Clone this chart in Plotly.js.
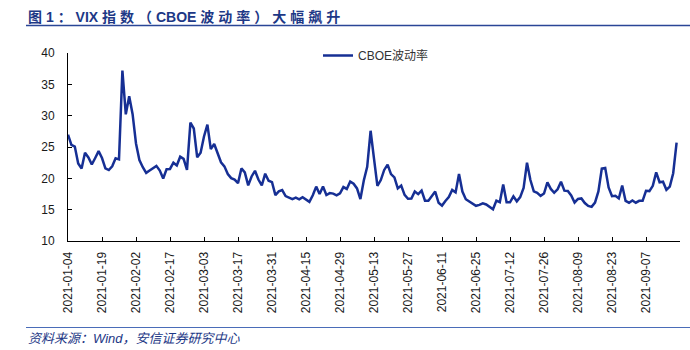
<!DOCTYPE html>
<html>
<head>
<meta charset="utf-8">
<script src="https://cdn.plot.ly/plotly-3.0.1.min.js"></script>
<style>html,body{margin:0;padding:0;background:#fff;}#chart{width:690px;height:350px;}</style>
</head>
<body>
<div id="chart"></div>
<script>
const dates = [
"2021-01-04","2021-01-05","2021-01-06","2021-01-07","2021-01-08","2021-01-11","2021-01-12","2021-01-13","2021-01-14","2021-01-15",
"2021-01-19","2021-01-20","2021-01-21","2021-01-22","2021-01-25","2021-01-26","2021-01-27","2021-01-28","2021-01-29",
"2021-02-01","2021-02-02","2021-02-03","2021-02-04","2021-02-05","2021-02-08","2021-02-09","2021-02-10","2021-02-11","2021-02-12",
"2021-02-16","2021-02-17","2021-02-18","2021-02-19","2021-02-22","2021-02-23","2021-02-24","2021-02-25","2021-02-26",
"2021-03-01","2021-03-02","2021-03-03","2021-03-04","2021-03-05","2021-03-08","2021-03-09","2021-03-10","2021-03-11","2021-03-12",
"2021-03-15","2021-03-16","2021-03-17","2021-03-18","2021-03-19","2021-03-22","2021-03-23","2021-03-24","2021-03-25","2021-03-26",
"2021-03-29","2021-03-30","2021-03-31",
"2021-04-01","2021-04-05","2021-04-06","2021-04-07","2021-04-08","2021-04-09","2021-04-12","2021-04-13","2021-04-14","2021-04-15",
"2021-04-16","2021-04-19","2021-04-20","2021-04-21","2021-04-22","2021-04-23","2021-04-26","2021-04-27","2021-04-28","2021-04-29","2021-04-30",
"2021-05-03","2021-05-04","2021-05-05","2021-05-06","2021-05-07","2021-05-10","2021-05-11","2021-05-12","2021-05-13","2021-05-14",
"2021-05-17","2021-05-18","2021-05-19","2021-05-20","2021-05-21","2021-05-24","2021-05-25","2021-05-26","2021-05-27","2021-05-28",
"2021-06-01","2021-06-02","2021-06-03","2021-06-04","2021-06-07","2021-06-08","2021-06-09","2021-06-10","2021-06-11",
"2021-06-14","2021-06-15","2021-06-16","2021-06-17","2021-06-18","2021-06-21","2021-06-22","2021-06-23","2021-06-24","2021-06-25",
"2021-06-28","2021-06-29","2021-06-30",
"2021-07-01","2021-07-02","2021-07-06","2021-07-07","2021-07-08","2021-07-09","2021-07-12","2021-07-13","2021-07-14","2021-07-15","2021-07-16",
"2021-07-19","2021-07-20","2021-07-21","2021-07-22","2021-07-23","2021-07-26","2021-07-27","2021-07-28","2021-07-29","2021-07-30",
"2021-08-02","2021-08-03","2021-08-04","2021-08-05","2021-08-06","2021-08-09","2021-08-10","2021-08-11","2021-08-12","2021-08-13",
"2021-08-16","2021-08-17","2021-08-18","2021-08-19","2021-08-20","2021-08-23","2021-08-24","2021-08-25","2021-08-26","2021-08-27",
"2021-08-30","2021-08-31",
"2021-09-01","2021-09-02","2021-09-03","2021-09-07","2021-09-08","2021-09-09","2021-09-10","2021-09-13","2021-09-14","2021-09-15",
"2021-09-16","2021-09-17","2021-09-20"
];

const vix = [
26.97,25.34,25.07,22.37,21.56,24.08,23.33,22.21,23.25,24.34,23.24,21.58,21.32,21.91,23.19,23.02,37.21,30.21,33.09,
30.24,25.56,22.91,21.77,20.87,21.24,21.63,21.99,21.25,19.97,21.46,21.50,22.49,22.05,23.45,23.11,21.34,28.89,27.95,
23.35,24.10,26.67,28.57,24.66,25.47,24.03,22.56,21.91,20.69,20.03,19.79,19.23,21.58,20.95,18.88,20.30,21.20,19.81,18.86,20.74,19.61,19.40,
17.33,17.91,18.12,17.16,16.95,16.69,16.91,16.65,16.99,16.57,16.25,17.29,18.68,17.50,18.71,17.33,17.64,17.56,17.28,17.61,18.61,
18.31,19.48,19.15,18.39,16.69,19.66,21.84,27.59,23.13,18.81,19.72,21.34,22.18,20.67,20.15,18.40,18.84,17.36,16.74,16.76,
17.90,17.48,18.04,16.42,16.42,17.07,17.89,16.10,15.65,16.39,17.02,18.15,17.75,20.70,17.89,16.66,16.32,15.97,15.62,15.76,16.02,15.83,
15.48,15.07,16.44,16.20,19.00,16.18,16.17,17.12,16.33,17.01,18.45,22.50,19.73,17.91,17.69,17.20,17.58,19.36,18.31,17.70,18.24,
19.46,18.04,17.97,17.28,16.15,16.72,16.79,16.06,15.59,15.45,16.12,17.91,21.57,21.67,18.56,17.15,17.22,16.79,18.84,16.39,16.11,16.48,
16.11,16.41,16.41,18.00,17.96,18.80,20.95,19.37,19.46,18.18,18.69,20.81,25.71
];

const seriesName = "CBOE波动率";
const titleText = "图 1：VIX 指数（CBOE 波动率）大幅飙升";
const sourceText = "资料来源：Wind，安信证券研究中心";
const labelStep = 10;
const yTicks = [10, 15, 20, 25, 30, 35, 40];

// category positions
const xIdx = dates.map((d, i) => i);
const tickvals = [];
const ticktext = [];
for (let i = 0; i <= dates.length; i += labelStep) {
  tickvals.push(i);
  ticktext.push(i < dates.length ? dates[i] : "");
}

// spaced-out title: extra gap next to CJK glyphs, latin words kept tight
const chars = Array.from(titleText);
const isWide = c => c.charCodeAt(0) > 255;
let spacedTitle = "";
chars.forEach((c, i) => {
  spacedTitle += c;
  const n = chars[i + 1];
  if (n !== undefined && c !== " " && n !== " " && (isWide(c) || isWide(n))) spacedTitle += "\u2009\u200A";
});

// plot-area geometry in pixels
const W = 690, H = 350;
const M = {l: 68, r: 10, t: 53, b: 109};
const pw = W - M.l - M.r, ph = H - M.t - M.b;
const px = x => (x - M.l) / pw;
const py = y => (H - M.b - y) / ph;

const navy = "#1d3886";
const lineBlue = "#162f94";
const latin = "Liberation Sans, Arial, Noto Sans CJK SC, sans-serif";

const trace = {
  x: xIdx,
  y: vix,
  type: "scatter",
  mode: "lines",
  name: seriesName,
  line: {color: lineBlue, width: 2.5},
  hoverinfo: "skip"
};

const layout = {
  width: W, height: H,
  margin: M,
  paper_bgcolor: "#fff",
  plot_bgcolor: "#fff",
  font: {family: latin, size: 12, color: "#1a1a1a"},
  showlegend: true,
  legend: {
    x: px(318), xanchor: "left", xref: "paper",
    y: py(41), yanchor: "top", yref: "paper",
    bgcolor: "rgba(0,0,0,0)",
    font: {family: latin, size: 12, color: "#333"}
  },
  xaxis: {
    type: "linear",
    range: [0, dates.length],
    tickmode: "array",
    tickvals: tickvals,
    ticktext: ticktext,
    tickangle: -90,
    ticks: "inside",
    ticklen: 4,
    tickcolor: "#000",
    showline: true,
    linecolor: "#000",
    linewidth: 1,
    showgrid: false,
    zeroline: false,
    ticklabelstandoff: 5,
    tickfont: {family: latin, size: 12, color: "#1a1a1a"}
  },
  yaxis: {
    range: [10, 40],
    tickmode: "array",
    tickvals: yTicks,
    ticks: "inside",
    ticklen: 4,
    tickcolor: "#000",
    showline: true,
    linecolor: "#000",
    linewidth: 1,
    showgrid: false,
    zeroline: false,
    ticklabelstandoff: 10,
    tickfont: {family: latin, size: 12, color: "#1a1a1a"}
  },
  shapes: [
    {type: "line", xref: "paper", yref: "paper", x0: px(26), x1: px(690), y0: py(25.5), y1: py(25.5),
     line: {color: "#2a4696", width: 1.5}},
    {type: "line", xref: "paper", yref: "paper", x0: px(26), x1: px(690), y0: py(327.5), y1: py(327.5),
     line: {color: "#4a6cb8", width: 1.2}}
  ],
  annotations: [
    {text: "<b>" + spacedTitle + "</b>", xref: "paper", yref: "paper", x: px(26), y: py(17), xanchor: "left", yanchor: "middle",
     showarrow: false, font: {family: latin, size: 14, color: navy}},
    {text: "<i>" + sourceText + "</i>", xref: "paper", yref: "paper", x: px(26), y: py(338), xanchor: "left", yanchor: "middle",
     showarrow: false, font: {family: latin, size: 13, color: navy}}
  ]
};

Plotly.newPlot("chart", [trace], layout, {displayModeBar: false, staticPlot: true});
</script>
</body>
</html>
